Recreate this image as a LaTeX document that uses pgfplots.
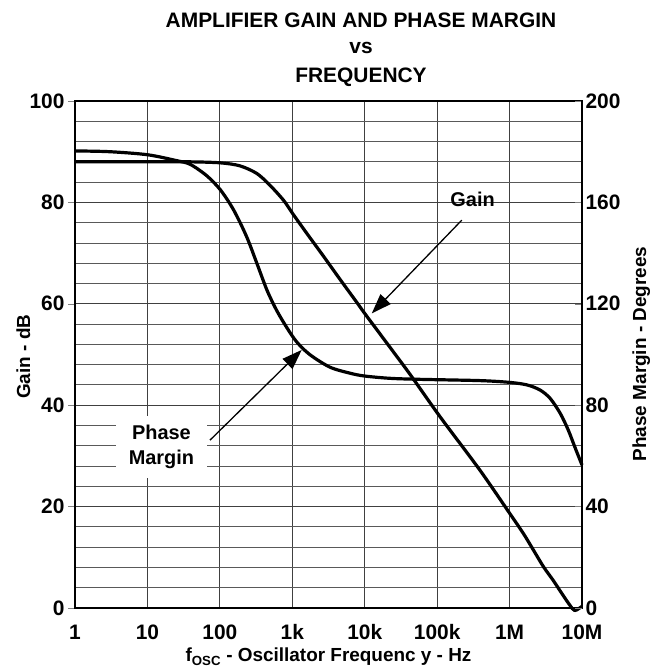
\documentclass[border=0pt]{standalone}
\usepackage{fontspec}
\setmainfont{Liberation Sans}
\usepackage{pgfplots}
\pgfplotsset{compat=1.18}
\usetikzlibrary{arrows.meta}

\begin{document}
\begin{tikzpicture}
\useasboundingbox (0bp,0bp) rectangle (660bp,670bp);
\pgfplotsset{
  every axis/.append style={
    at={(75bp,62bp)}, anchor=south west,
    scale only axis, width=507bp, height=507bp,
    xmode=log, xmin=1, xmax=1e7,
    tick label style={font=\fontsize{21}{21}\selectfont\bfseries},
    /pgf/number format/assume math mode=true,
    axis line style={line width=1.2bp},
  },
}
% gain, left axis
\begin{axis}[
  ymin=0, ymax=100,
  ytick={0,20,...,100}, minor ytick={4,8,...,96},
  xtick={1,10,100,1000,10000,100000,1000000,10000000},
  xticklabels={1,10,100,1k,10k,100k,1M,10M},
  xticklabel style={yshift=-5bp, text height=15.5bp, text depth=0bp},
  xmajorgrids, ymajorgrids, yminorgrids,
  major grid style={black!75, line width=0.9bp},
  minor grid style={black!65, line width=0.9bp},
  xtick pos=bottom, ytick pos=left,
  tick align=outside,
  major tick length=7bp, minor tick length=0pt,
  xtick style={draw=none},
  clip=false,
]
\addplot[line width=3.2bp, smooth, line join=round] coordinates {
  (1,88) (10,88) (39,88) (102,87.8) (190,87.2) (324,85.7) (490,83.4)
  (759,80.4) (1023,77.7) (1585,73.9) (2692,69.4) (4571,64.8) (7762,60.3)
  (10000,58.1) (22387,51.4) (42658,46.0) (110000,37.7) (389000,27.2)
  (1000000,18.7) (1550000,14.7) (2140000,11.4) (2950000,8.1) (3980000,5.5)
  (5250000,2.9) (6760000,0.6) (7940000,-0.5) (9900000,0.3)
};
\node[font=\fontsize{20}{20}\selectfont\bfseries] at (axis cs:3.09e5,80.5) {Gain};
\draw[line width=1.3bp, -{Triangle[length=20bp,width=14bp]}]
  (axis cs:2.19e5,76.5) -- (axis cs:1.25e4,58.1);
\node[font=\fontsize{20}{25}\selectfont\bfseries, fill=white, align=center,
  inner xsep=13bp, inner ysep=9bp] at (axis cs:15.6,31.7) {Phase\\Margin};
\draw[line width=1.3bp, -{Triangle[length=20bp,width=14bp]}]
  (axis cs:73,33.1) -- (axis cs:1350,50.9);
\end{axis}
% phase margin, right axis
\begin{axis}[
  ymin=0, ymax=200, ytick={0,40,...,200},
  axis y line*=right, axis x line=none,
  tick align=inside, major tick length=7bp,
  clip=false,
]
\addplot[line width=3.2bp, smooth, line join=round] coordinates {
  (1,180.3) (3,180.0) (10,178.8) (25,176.5) (39,175.0) (66,170.5)
  (102,164.9) (155,157.0) (234,146.5) (324,136.0) (447,125.4) (603,117.6)
  (832,110.8) (1148,105.0) (1738,100.0) (3311,95.0) (6310,92.6)
  (10000,91.5) (22387,90.6) (57544,90.2) (389000,89.7) (1000000,89.0)
  (1740000,88.0) (2630000,86.0) (3630000,82.7) (5000000,76.8)
  (6460000,70.2) (7940000,63.6) (10000000,56.4)
};
\end{axis}
\begin{scope}[every node/.style={font=\fontsize{21}{21}\selectfont\bfseries, anchor=base}]
\node at (361bp,642.7bp) {AMPLIFIER GAIN AND PHASE MARGIN};
\node at (361bp,616bp) {vs};
\node at (361bp,587.7bp) {FREQUENCY};
\end{scope}
\begin{scope}[every node/.style={font=\fontsize{19}{19}\selectfont\bfseries, anchor=base}]
\node at (328.5bp,8.3bp) {f\textsubscript{OSC} - Oscillator Frequenc y - Hz};
\node[rotate=90] at (30bp,313.3bp) {Gain - dB};
\node[rotate=90] at (646bp,316bp) {Phase Margin - Degrees};
\end{scope}
\end{tikzpicture}
\end{document}
